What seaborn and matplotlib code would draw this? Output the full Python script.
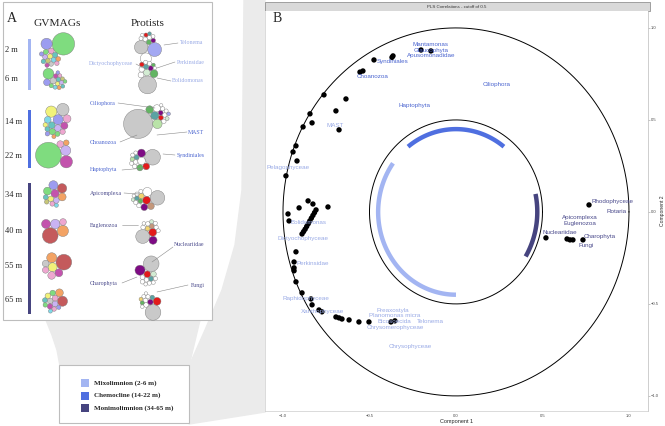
import numpy as np
import pandas as pd
import seaborn as sns
import matplotlib.pyplot as plt
from matplotlib.patches import Rectangle, Circle

sns.set_style("white")
plt.rcParams["font.family"] = ["Liberation Sans", "DejaVu Sans"]

# ---------------- data: panel B (PLS correlation circle) ----------------
pts_x = [-0.202, -0.145, -0.370, -0.364, -0.474, -0.555, -0.538, -0.763, -0.636, -0.694,
         -0.844, -0.832, -0.884, -0.676, -0.925, -0.942, -0.919, -0.983, -0.855, -0.827,
         -0.907, -0.740, -0.971, -0.965, -0.809, -0.818, -0.827, -0.836, -0.845, -0.854,
         -0.863, -0.872, -0.881, -0.890, -0.925, -0.936, -0.936, -0.936, -0.925, -0.890,
         -0.838, -0.832, -0.792, -0.775, -0.694, -0.676, -0.659, -0.618, -0.561, -0.503,
         -0.376, -0.353, 0.769, 0.520, 0.642, 0.659, 0.676, 0.734]
pts_y = [0.880, 0.875, 0.840, 0.848, 0.826, 0.760, 0.766, 0.636, 0.614, 0.549,
         0.533, 0.484, 0.462, 0.446, 0.359, 0.326, 0.277, 0.196, 0.060, 0.043,
         0.022, 0.027, -0.011, -0.049, 0.011, -0.004, -0.019, -0.034, -0.049, -0.064,
         -0.079, -0.094, -0.107, -0.120, -0.217, -0.272, -0.304, -0.320, -0.380, -0.440,
         -0.473, -0.505, -0.533, -0.543, -0.571, -0.576, -0.582, -0.587, -0.598, -0.598,
         -0.598, -0.592, 0.038, -0.141, -0.147, -0.152, -0.152, -0.152]

lab_names = ["Mantamonas", "Glaucophyta", "Apusomonadidae", "Syndiniales", "Choanozoa",
             "Ciliophora", "Haptophyta", "MAST", "Pelagophyceae", "Bolidomonas",
             "Dictyochophyceae", "Perkinsidae", "Raphidophyceae", "Xanthophyceae",
             "Preaxostyla", "Planomonas micra", "Bicosoecida", "Telonema",
             "Chrysomerophyceae", "Chrysophyceae", "Rhodophyceae", "Rotaria",
             "Apicomplexa", "Euglenozoa", "Nucleariidae", "Charophyta", "Fungi"]
lab_x = [-0.145, -0.145, -0.145, -0.364, -0.480, 0.237, -0.237, -0.700, -0.970, -0.855,
         -0.884, -0.827, -0.867, -0.769, -0.364, -0.353, -0.358, -0.150, -0.353, -0.266,
         0.907, 0.930, 0.717, 0.717, 0.600, 0.830, 0.750]
lab_y = [0.908, 0.875, 0.848, 0.815, 0.734, 0.690, 0.580, 0.467, 0.240, -0.060,
         -0.147, -0.283, -0.473, -0.543, -0.538, -0.565, -0.598, -0.598, -0.630, -0.734,
         0.054, 0.005, -0.033, -0.065, -0.110, -0.136, -0.180]
lab_zone = ["chemo", "chemo", "chemo", "chemo", "chemo", "chemo", "chemo", "mixo", "mixo", "mixo",
            "mixo", "mixo", "mixo", "mixo", "mixo", "mixo", "mixo", "mixo", "mixo", "mixo",
            "moni", "moni", "moni", "moni", "moni", "moni", "moni"]

zone_names = ["Mixolimnion (2-6 m)", "Chemocline (14-22 m)", "Monimolimnion (34-65 m)"]
zone_keys = ["mixo", "chemo", "moni"]
zone_bar = {"mixo": "#a3b5f2", "chemo": "#4f6fe0", "moni": "#46447f"}
zone_text = {"mixo": "#9aabe6", "chemo": "#4c66d0", "moni": "#4b4b8c"}
# arcs of each layer inside the inner circle (start, end angle in degrees, radius)
arc_zone = ["mixo", "chemo", "moni"]
arc_start = [144, 52, -31]
arc_end = [270, 128, 12]
arc_rad = [0.45, 0.45, 0.47]

# ---------------- data: panel A (bubble clusters) ----------------
depths = ["2 m", "6 m", "14 m", "22 m", "34 m", "40 m", "55 m", "65 m"]

gv_cols = {"green": "#7fdc7f", "lavender": "#9c9cf0", "pink": "#eea7d0", "magenta": "#c353ad",
           "orange": "#f3a364", "brick": "#c45a5c", "yellow": "#f1f27a", "teal": "#67c4bf",
           "gray": "#c9c9c9", "lilac": "#c9b3f3", "cyan": "#7fd8e8", "olive": "#c7c778"}
gv_r = [
    [10, 5, 2.6, 2.4, 2.3, 2.3, 2.2, 2.2, 2.1, 2.1, 2.0, 2.0, 2.0, 1.9, 1.9],
    [4.8, 3.0, 2.8, 2.0, 2.0, 1.9, 1.9, 1.8, 1.8, 1.8, 1.7, 1.7, 1.7, 1.6, 1.6],
    [5.5, 5.0, 4.5, 3.5, 3.2, 3.0, 3.0, 3.0, 2.8, 2.4, 2.2, 2.2, 2.0, 2.0, 1.8],
    [11.5, 5.5, 4.5, 3.0, 2.5],
    [4.2, 4.0, 3.6, 3.5, 3.5, 2.6, 2.5, 2.2, 2.1, 2.0, 1.8],
    [7.0, 5.0, 4.2, 4.0, 3.0],
    [7.0, 4.5, 4.0, 3.5, 3.4, 3.0, 2.8],
    [4.5, 3.5, 2.6, 2.6, 2.5, 2.5, 2.5, 2.4, 2.2, 2.0, 2.0, 1.9, 1.8],
]
gv_c = [
    ["green", "lavender", "pink", "teal", "yellow", "green", "lilac", "cyan", "olive", "orange",
     "gray", "pink", "teal", "lavender", "magenta"],
    ["green", "lavender", "gray", "magenta", "teal", "yellow", "green", "cyan", "lilac", "orange",
     "pink", "olive", "teal", "green", "lavender"],
    ["gray", "yellow", "lavender", "pink", "magenta", "lilac", "teal", "cyan", "green", "pink",
     "green", "teal", "yellow", "lavender", "orange"],
    ["green", "magenta", "lilac", "pink", "orange"],
    ["brick", "lavender", "magenta", "orange", "green", "lilac", "yellow", "teal", "pink",
     "olive", "cyan"],
    ["brick", "orange", "lilac", "magenta", "pink"],
    ["brick", "orange", "yellow", "magenta", "pink", "gray", "pink"],
    ["brick", "orange", "pink", "lilac", "green", "gray", "yellow", "magenta", "teal", "green",
     "pink", "lavender", "cyan"],
]

pr_cols = {"gray": "#c9c9c9", "white": "#ffffff", "red": "#e31b1b", "purple": "#7e0b84",
           "green": "#63b563", "lightgreen": "#b9e3a8", "teal": "#5aa3a3", "tan": "#c4977a",
           "yellow": "#f1d36f", "lavender": "#a3a8f2", "palegreen": "#d3ecd3"}
pr_r = [
    [6.2, 6.0, 5.0, 2.2, 2.0, 2.0, 1.9, 1.8, 1.8, 1.7, 1.6, 1.5],
    [8.0, 3.5, 3.0, 2.6, 2.4, 2.2, 2.2, 2.0, 2.0, 1.8, 1.6, 1.5],
    [13.0, 4.2, 3.6, 3.4, 3.2, 2.2, 2.1, 2.0, 2.0, 1.9, 1.8, 1.8, 1.6, 1.5],
    [7.0, 3.6, 3.4, 3.0, 2.8, 2.2, 2.0, 2.0, 1.9, 1.8, 1.8, 1.6],
    [6.5, 4.0, 3.5, 3.0, 3.0, 2.5, 2.1, 2.0, 2.0, 1.9, 1.8, 1.8, 1.6, 1.5],
    [6.2, 3.6, 3.5, 2.2, 2.1, 2.0, 2.0, 1.9, 1.8, 1.8, 1.7, 1.6],
    [7.0, 4.5, 3.0, 2.5, 2.2, 2.1, 2.0, 2.0, 1.9, 1.8, 1.7, 1.6],
    [7.0, 3.5, 2.5, 2.1, 2.0, 2.0, 1.9, 1.8, 1.8, 1.7, 1.6, 1.5],
]
pr_c = [
    ["lavender", "gray", "white", "green", "white", "purple", "white", "white", "red", "white",
     "teal", "white"],
    ["gray", "green", "palegreen", "white", "white", "purple", "teal", "white", "red", "white",
     "green", "white"],
    ["gray", "lightgreen", "teal", "green", "white", "red", "purple", "white", "white", "white",
     "white", "palegreen", "lavender", "white"],
    ["gray", "purple", "white", "red", "green", "teal", "white", "white", "lightgreen", "white",
     "white", "white"],
    ["gray", "white", "red", "tan", "purple", "yellow", "green", "white", "teal", "white",
     "white", "white", "palegreen", "white"],
    ["gray", "purple", "red", "yellow", "tan", "white", "white", "white", "palegreen", "white",
     "white", "white"],
    ["gray", "purple", "red", "palegreen", "teal", "white", "white", "white", "white", "white",
     "white", "white"],
    ["gray", "red", "purple", "white", "white", "teal", "white", "green", "white", "yellow",
     "white", "white"],
]

pr_labels = ["Telonema", "Dictyochophyceae", "Perkinsidae", "Bolidomonas", "Ciliophora",
             "Choanozoa", "MAST", "Syndiniales", "Haptophyta", "Apicomplexa", "Euglenozoa",
             "Nucleariidae", "Charophyta", "Fungi"]
pr_label_zone = ["mixo", "mixo", "mixo", "mixo", "chemo", "chemo", "chemo", "chemo", "chemo",
                 "moni", "moni", "moni", "moni", "moni"]

# ---------------- layout (pixels of the 665x426 canvas) ----------------
bubble_scale = 1.12
gv_center = [(57, 50), (55, 79), (57, 121), (54, 154), (55, 194), (55, 231), (57, 266), (55, 301)]
gv_rot = [180, 100, 170, 20, 200, 340, 200, 250]
pr_center = [(148, 48), (148, 77), (147, 121), (145, 160), (148, 199), (148, 232), (147, 271), (150, 306)]
pr_rot = [190, 300, 0, 200, 210, 20, 150, 290]
depth_y = [50, 79, 122, 156, 195, 231, 266, 300]
bar_span = {"mixo": (39, 90), "chemo": (110, 168), "moni": (183, 314)}
lab_pos = [(192, 43), (111, 64), (191, 62), (188, 81), (103, 103), (103, 142), (196, 132),
           (191, 155), (104, 170), (106, 193), (104, 225), (189, 244), (104, 283), (198, 285)]
lab_line = [((164, 45), (178, 43)), ((136, 64), (143, 68)), ((157, 68), (175, 62)),
            ((157, 78), (171, 81)), ((118, 103), (155, 108)), ((120, 142), (137, 135)),
            ((157, 135), (187, 132)), ((163, 154), (175, 155)), ((122, 170), (145, 168)),
            ((124, 193), (139, 194)), ((122, 225), (138, 225)), ((173, 247), (152, 262)),
            ((122, 283), (137, 277)), ((188, 285), (157, 292))]


def tangent_spots(a, b, r):
    (xa, ya, ra), (xb, yb, rb) = a, b
    da, db = ra + r, rb + r
    dx, dy = xb - xa, yb - ya
    d = np.hypot(dx, dy)
    if d == 0 or d > da + db or d < abs(da - db):
        return []
    l = (da ** 2 - db ** 2 + d ** 2) / (2 * d)
    h = np.sqrt(max(da ** 2 - l ** 2, 0))
    mx, my = xa + l * dx / d, ya + l * dy / d
    return [(mx + h * dy / d, my - h * dx / d), (mx - h * dy / d, my + h * dx / d)]


def pack(radii, rot):
    placed = []
    for r in radii:
        r = r * bubble_scale
        if not placed:
            placed.append((0.0, 0.0, r))
            continue
        if len(placed) == 1:
            placed.append((placed[0][2] + r, 0.0, r))
            continue
        cx = np.mean([p[0] for p in placed])
        cy = np.mean([p[1] for p in placed])
        best = None
        for i in range(len(placed)):
            for j in range(i + 1, len(placed)):
                for sx, sy in tangent_spots(placed[i], placed[j], r):
                    if all(np.hypot(sx - p[0], sy - p[1]) >= p[2] + r - 1e-6 for p in placed):
                        dist = np.hypot(sx - cx, sy - cy)
                        if best is None or dist < best[0]:
                            best = (dist, sx, sy)
        placed.append((best[1], best[2], r))
    t = np.deg2rad(rot)
    out = [(x * np.cos(t) - y * np.sin(t), x * np.sin(t) + y * np.cos(t), r) for x, y, r in placed]
    x0 = (min(p[0] - p[2] for p in out) + max(p[0] + p[2] for p in out)) / 2
    y0 = (min(p[1] - p[2] for p in out) + max(p[1] + p[2] for p in out)) / 2
    return [(x - x0, y - y0, r) for x, y, r in out]


def draw_cluster(ax, radii, colors, palette, center, rot):
    for (x, y, r), c in zip(pack(radii, rot), colors):
        ax.add_patch(Circle((center[0] + x, center[1] + y), r, facecolor=palette[c],
                            edgecolor="#7a7a7a", linewidth=0.3, zorder=3))


fig = plt.figure(figsize=(6.65, 4.26), dpi=100)

# background canvas in pixel units
ax0 = fig.add_axes([0, 0, 1, 1], zorder=0)
ax0.set_xlim(0, 665)
ax0.set_ylim(426, 0)
ax0.axis("off")

# grey projection shapes linking the panels with the legend
ax0.fill([46, 200, 189, 60, 57, 52], [320, 320, 366, 366, 350, 335], color="#ebebeb", zorder=1)
ax0.fill([244, 265, 265, 189, 189, 205, 222, 235, 242, 244],
         [0, 0, 412, 424, 366, 330, 290, 245, 190, 0], color="#ebebeb", zorder=1)

# panel A frame and content
ax0.add_patch(Rectangle((3, 2), 209, 318, facecolor="white", edgecolor="#bdbdbd",
                        linewidth=0.8, zorder=2))
ax0.text(7, 19, "A", fontsize=10, family="Liberation Serif", va="center", zorder=4)
ax0.text(57, 23, "GVMAGs", fontsize=8.2, family="Liberation Serif", ha="center", va="center", zorder=4)
ax0.text(148, 23, "Protists", fontsize=8.2, family="Liberation Serif", ha="center", va="center", zorder=4)
for d, y in zip(depths, depth_y):
    ax0.text(5, y, d, fontsize=6, family="Liberation Serif", va="center", zorder=4)
for z, (y0, y1) in bar_span.items():
    ax0.add_patch(Rectangle((27.5, y0), 3, y1 - y0, facecolor=zone_bar[z], linewidth=0, zorder=3))

for i in range(len(depths)):
    draw_cluster(ax0, gv_r[i], gv_c[i], gv_cols, gv_center[i], gv_rot[i])
    draw_cluster(ax0, pr_r[i], pr_c[i], pr_cols, pr_center[i], pr_rot[i])

for name, z, (tx, ty), (p0, p1) in zip(pr_labels, pr_label_zone, lab_pos, lab_line):
    ax0.plot([p0[0], p1[0]], [p0[1], p1[1]], color="#8a8a8a", linewidth=0.4, zorder=4)
    ax0.text(tx, ty, name, fontsize=4.2, family="Liberation Serif", color=zone_text[z],
             ha="center", va="center", zorder=5)

# legend box
ax0.add_patch(Rectangle((59, 365), 130, 58, facecolor="white", edgecolor="#bdbdbd",
                        linewidth=0.8, zorder=2))
for k, (z, name) in enumerate(zip(zone_keys, zone_names)):
    y = 383 + k * 12.5
    ax0.add_patch(Rectangle((81, y - 4), 8, 8, facecolor=zone_bar[z], linewidth=0, zorder=3))
    ax0.text(94, y, name, fontsize=5, family="Liberation Serif", fontweight="bold",
             va="center", zorder=4)

# strip title of panel B
ax0.add_patch(Rectangle((265, 2), 385, 9, facecolor="#d9d9d9", edgecolor="#666666",
                        linewidth=0.4, zorder=2))
ax0.text(457, 6.6, "PLS Correlations - cutoff of 0.5", fontsize=3.2, ha="center",
         va="center", color="#333333", zorder=3)

# ---------------- panel B ----------------
axB = fig.add_axes([265 / 665, 1 - 411 / 426, (648 - 265) / 665, 400 / 426], zorder=2)
axB.set_facecolor("white")

t = np.linspace(0, 2 * np.pi, 400)
axB.plot(np.cos(t), np.sin(t), color="black", linewidth=0.7)
axB.plot(0.5 * np.cos(t), 0.5 * np.sin(t), color="black", linewidth=0.7)
for z, a0, a1, r in zip(arc_zone, arc_start, arc_end, arc_rad):
    a = np.deg2rad(np.linspace(a0, a1, 100))
    axB.plot(r * np.cos(a), r * np.sin(a), color=zone_bar[z], linewidth=3.2,
             solid_capstyle="butt")

pts = pd.DataFrame({"x": pts_x, "y": pts_y})
sns.scatterplot(data=pts, x="x", y="y", ax=axB, color="black", s=15, edgecolor="none",
                zorder=3, legend=False)
for n, x, y, z in zip(lab_names, lab_x, lab_y, lab_zone):
    axB.text(x, y, n, fontsize=4.5, color=zone_text[z], ha="center", va="center", zorder=4)

axB.text(-1.06, 1.05, "B", fontsize=10, family="Liberation Serif", va="center")

axB.set_xlim(-1.104, 1.11)
axB.set_ylim(-1.082, 1.092)
axB.set_xticks([-1.0, -0.5, 0.0, 0.5, 1.0])
axB.set_yticks([-1.0, -0.5, 0.0, 0.5, 1.0])
axB.yaxis.tick_right()
axB.yaxis.set_label_position("right")
axB.tick_params(labelsize=3, length=1.5, width=0.4, color="#999999", labelcolor="#444444", pad=0.8)
axB.set_xlabel("Component 1", fontsize=4, labelpad=0.5)
axB.set_ylabel("Component 2", fontsize=3.6, labelpad=0.8)
axB.spines["top"].set_visible(False)
axB.spines["left"].set_color("#cccccc")
axB.spines["bottom"].set_color("#cccccc")
axB.spines["right"].set_color("#bbbbbb")
for s in ["left", "bottom", "right"]:
    axB.spines[s].set_linewidth(0.5)

fig.savefig("out.png", dpi=100)
